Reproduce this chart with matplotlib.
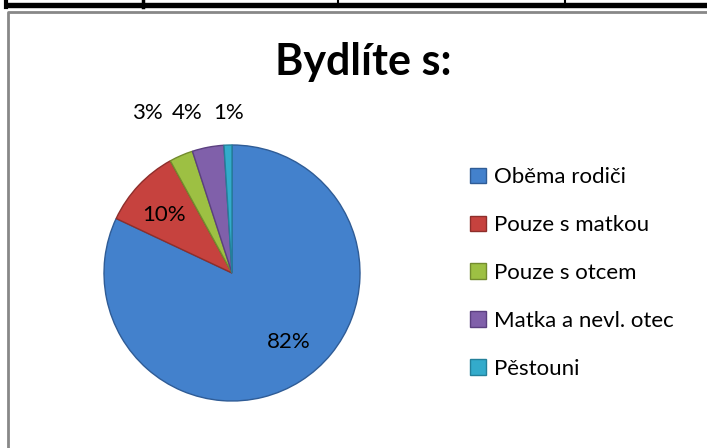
import numpy as np
import matplotlib
matplotlib.use("Agg")
import matplotlib.pyplot as plt
from matplotlib.patches import Patch, Rectangle
from matplotlib.lines import Line2D

plt.rcParams['font.family'] = ['Lato', 'DejaVu Sans']

labels = ["Oběma rodiči", "Pouze s matkou", "Pouze s otcem", "Matka a nevl. otec", "Pěstouni"]
values = [82, 10, 3, 4, 1]
pct_text = ["82%", "10%", "3%", "4%", "1%"]
colors = ["#4381CC", "#C6423E", "#9DC043", "#8060AA", "#33ABCB"]
edges = ["#2F5C96", "#8E2E2B", "#738C2E", "#5B4080", "#23809A"]

W, H = 707, 448
fig = plt.figure(figsize=(W / 100, H / 100), dpi=100)

# table edge above the chart
fig.patches.append(Rectangle((5 / W, 1 - 7 / H), 702 / W, 4 / H, transform=fig.transFigure,
                             color="black", zorder=0))
for xv, lw in [(6, 3), (143, 2.5), (338, 1.5), (565, 1.5)]:
    fig.add_artist(Line2D([xv / W, xv / W], [1 - 7 / H, 1], transform=fig.transFigure,
                          color="black", lw=lw))
# chart frame
fig.add_artist(Line2D([8 / W, 8 / W, 1], [0, 1 - 12 / H, 1 - 12 / H], transform=fig.transFigure,
                      color="#888888", lw=2))

cx, cy, r = 232, 273, 128
ax = fig.add_axes([(cx - r) / W, (H - cy - r) / H, 2 * r / W, 2 * r / H])
wedges, _ = ax.pie(values, colors=colors, startangle=90, counterclock=False,
                   wedgeprops=dict(linewidth=1.0))
for w, ec in zip(wedges, edges):
    w.set_edgecolor(ec)
ax.set_xlim(-1, 1)
ax.set_ylim(-1, 1)
ax.set_aspect("equal")
ax.axis("off")

lab_pos = [(0.44, -0.54), (-0.53, 0.45), (-0.66, 1.25), (-0.35, 1.25), (-0.03, 1.25)]
for (x, y), t in zip(lab_pos, pct_text):
    ax.text(x, y, t, ha="center", va="center", fontsize=16, color="black", clip_on=False)

fig.text(363 / W, 1 - 62 / H, "Bydlíte s:", ha="center", va="center",
         fontsize=31, fontweight="bold")

handles = [Patch(facecolor=c, edgecolor=e) for c, e in zip(colors, edges)]
fig.legend(handles, labels, loc="center left", bbox_to_anchor=(450 / W, 1 - 273 / H),
           frameon=False, fontsize=16, handlelength=0.7, handleheight=0.7,
           handletextpad=0.4, labelspacing=1.25)

fig.savefig("out.png", dpi=100)
